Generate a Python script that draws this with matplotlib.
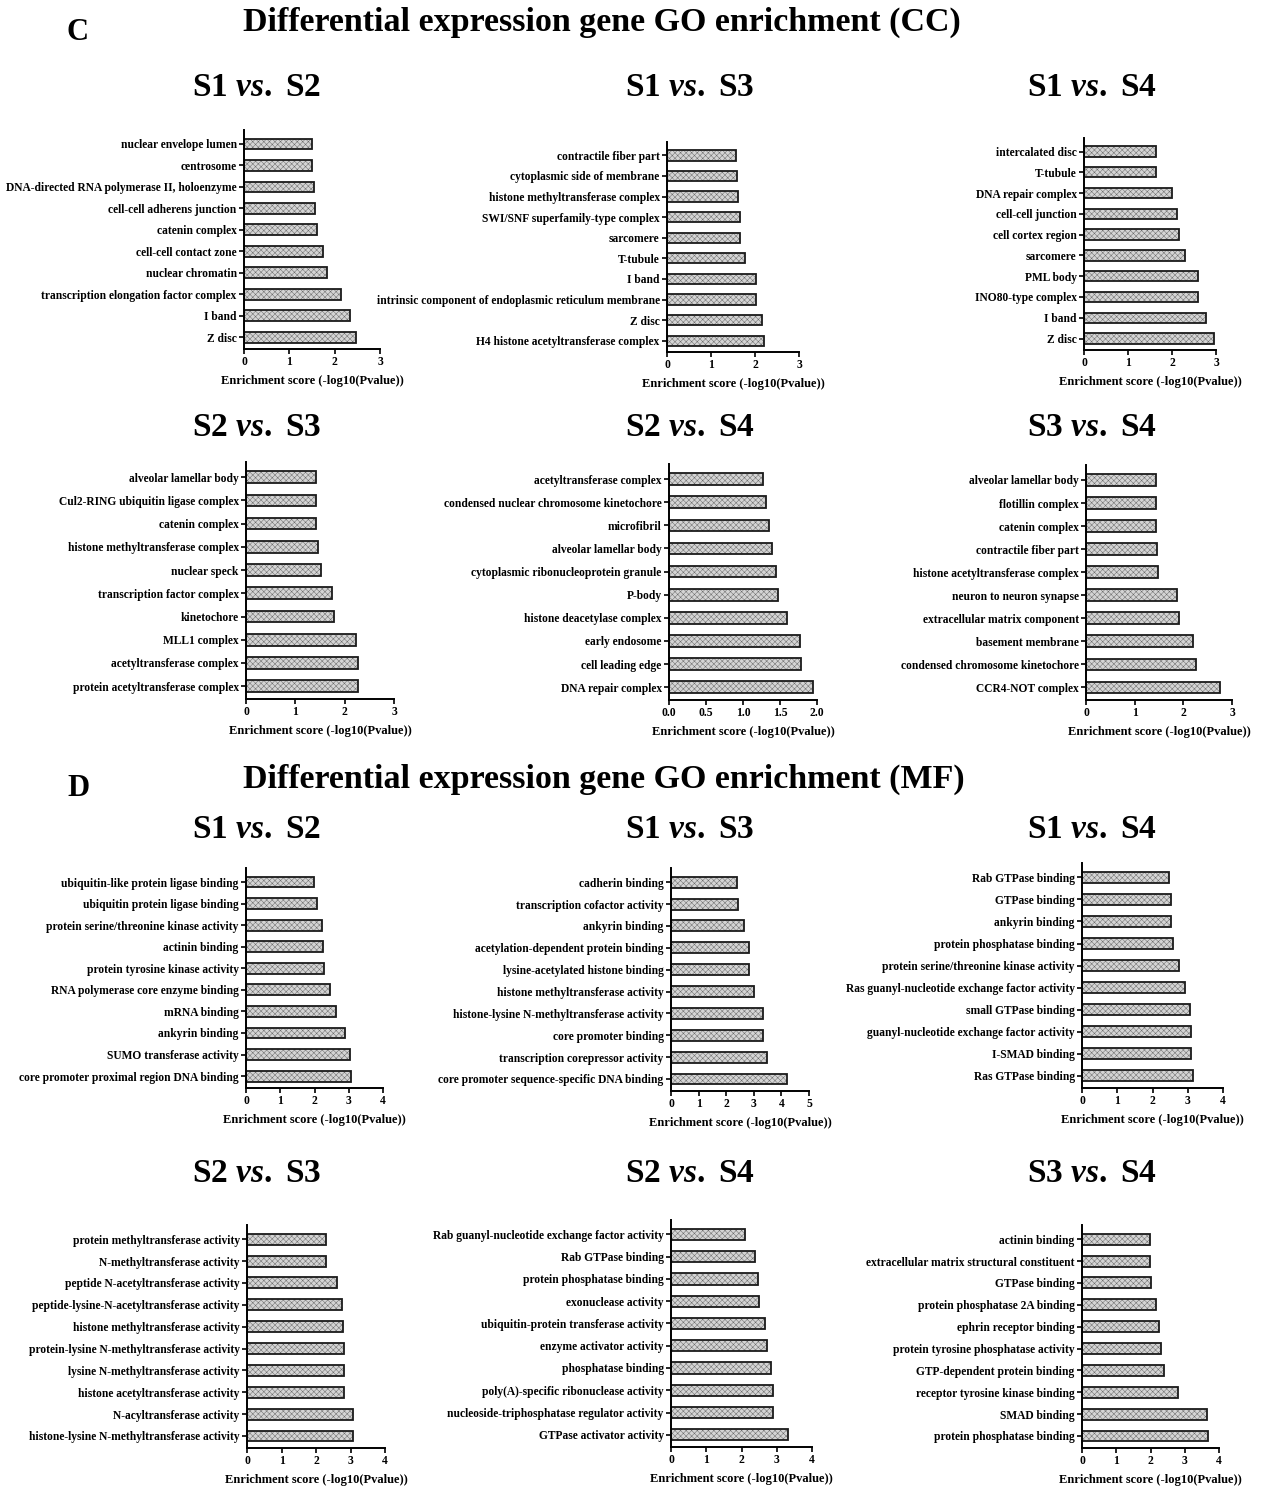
import numpy as np
import matplotlib
matplotlib.use('Agg')
import matplotlib.pyplot as plt

plt.rcParams['font.family'] = 'Liberation Serif'
plt.rcParams['font.weight'] = 'bold'
plt.rcParams['mathtext.fontset'] = 'custom'
plt.rcParams['mathtext.rm'] = 'Liberation Serif:bold'
plt.rcParams['mathtext.it'] = 'Liberation Serif:italic:bold'
plt.rcParams['mathtext.bf'] = 'Liberation Serif:bold'
plt.rcParams['hatch.linewidth'] = 0.35
plt.rcParams['hatch.color'] = '#555555'

# ---- data: terms listed top -> bottom, scores = -log10(P) ----
cc_s1_s2_terms = ['nuclear envelope lumen', 'centrosome', 'DNA-directed RNA polymerase II, holoenzyme',
                  'cell-cell adherens junction', 'catenin complex', 'cell-cell contact zone',
                  'nuclear chromatin', 'transcription elongation factor complex', 'I band', 'Z disc']
cc_s1_s2_vals = [1.49, 1.49, 1.54, 1.56, 1.60, 1.75, 1.82, 2.13, 2.34, 2.47]

cc_s1_s3_terms = ['contractile fiber part', 'cytoplasmic side of membrane', 'histone methyltransferase complex',
                  'SWI/SNF superfamily-type complex', 'sarcomere', 'T-tubule', 'I band',
                  'intrinsic component of endoplasmic reticulum membrane', 'Z disc',
                  'H4 histone acetyltransferase complex']
cc_s1_s3_vals = [1.56, 1.60, 1.61, 1.65, 1.65, 1.77, 2.02, 2.02, 2.15, 2.20]

cc_s1_s4_terms = ['intercalated disc', 'T-tubule', 'DNA repair complex', 'cell-cell junction',
                  'cell cortex region', 'sarcomere', 'PML body', 'INO80-type complex', 'I band', 'Z disc']
cc_s1_s4_vals = [1.63, 1.64, 2.01, 2.11, 2.15, 2.29, 2.58, 2.58, 2.78, 2.95]

cc_s2_s3_terms = ['alveolar lamellar body', 'Cul2-RING ubiquitin ligase complex', 'catenin complex',
                  'histone methyltransferase complex', 'nuclear speck', 'transcription factor complex',
                  'kinetochore', 'MLL1 complex', 'acetyltransferase complex',
                  'protein acetyltransferase complex']
cc_s2_s3_vals = [1.41, 1.41, 1.41, 1.46, 1.52, 1.75, 1.79, 2.22, 2.27, 2.27]

cc_s2_s4_terms = ['acetyltransferase complex', 'condensed nuclear chromosome kinetochore', 'microfibril',
                  'alveolar lamellar body', 'cytoplasmic ribonucleoprotein granule', 'P-body',
                  'histone deacetylase complex', 'early endosome', 'cell leading edge', 'DNA repair complex']
cc_s2_s4_vals = [1.27, 1.31, 1.35, 1.39, 1.44, 1.47, 1.60, 1.77, 1.79, 1.95]

cc_s3_s4_terms = ['alveolar lamellar body', 'flotillin complex', 'catenin complex', 'contractile fiber part',
                  'histone acetyltransferase complex', 'neuron to neuron synapse',
                  'extracellular matrix component', 'basement membrane',
                  'condensed chromosome kinetochore', 'CCR4-NOT complex']
cc_s3_s4_vals = [1.44, 1.44, 1.44, 1.45, 1.47, 1.88, 1.92, 2.19, 2.26, 2.75]

mf_s1_s2_terms = ['ubiquitin-like protein ligase binding', 'ubiquitin protein ligase binding',
                  'protein serine/threonine kinase activity', 'actinin binding',
                  'protein tyrosine kinase activity', 'RNA polymerase core enzyme binding', 'mRNA binding',
                  'ankyrin binding', 'SUMO transferase activity', 'core promoter proximal region DNA binding']
mf_s1_s2_vals = [1.99, 2.07, 2.21, 2.25, 2.29, 2.45, 2.62, 2.88, 3.05, 3.07]

mf_s1_s3_terms = ['cadherin binding', 'transcription cofactor activity', 'ankyrin binding',
                  'acetylation-dependent protein binding', 'lysine-acetylated histone binding',
                  'histone methyltransferase activity', 'histone-lysine N-methyltransferase activity',
                  'core promoter binding', 'transcription corepressor activity',
                  'core promoter sequence-specific DNA binding']
mf_s1_s3_vals = [2.40, 2.43, 2.64, 2.82, 2.82, 3.02, 3.33, 3.33, 3.47, 4.19]

mf_s1_s4_terms = ['Rab GTPase binding', 'GTPase binding', 'ankyrin binding', 'protein phosphatase binding',
                  'protein serine/threonine kinase activity', 'Ras guanyl-nucleotide exchange factor activity',
                  'small GTPase binding', 'guanyl-nucleotide exchange factor activity', 'I-SMAD binding',
                  'Ras GTPase binding']
mf_s1_s4_vals = [2.48, 2.52, 2.53, 2.57, 2.76, 2.92, 3.05, 3.09, 3.10, 3.16]

mf_s2_s3_terms = ['protein methyltransferase activity', 'N-methyltransferase activity',
                  'peptide N-acetyltransferase activity', 'peptide-lysine-N-acetyltransferase activity',
                  'histone methyltransferase activity', 'protein-lysine N-methyltransferase activity',
                  'lysine N-methyltransferase activity', 'histone acetyltransferase activity',
                  'N-acyltransferase activity', 'histone-lysine N-methyltransferase activity']
mf_s2_s3_vals = [2.29, 2.29, 2.60, 2.75, 2.78, 2.80, 2.80, 2.80, 3.06, 3.08]

mf_s2_s4_terms = ['Rab guanyl-nucleotide exchange factor activity', 'Rab GTPase binding',
                  'protein phosphatase binding', 'exonuclease activity',
                  'ubiquitin-protein transferase activity', 'enzyme activator activity',
                  'phosphatase binding', 'poly(A)-specific ribonuclease activity',
                  'nucleoside-triphosphatase regulator activity', 'GTPase activator activity']
mf_s2_s4_vals = [2.11, 2.37, 2.46, 2.51, 2.68, 2.72, 2.85, 2.89, 2.90, 3.32]

mf_s3_s4_terms = ['actinin binding', 'extracellular matrix structural constituent', 'GTPase binding',
                  'protein phosphatase 2A binding', 'ephrin receptor binding',
                  'protein tyrosine phosphatase activity', 'GTP-dependent protein binding',
                  'receptor tyrosine kinase binding', 'SMAD binding', 'protein phosphatase binding']
mf_s3_s4_vals = [1.98, 1.98, 2.02, 2.17, 2.25, 2.31, 2.38, 2.79, 3.66, 3.68]

comparisons = ['S1 $\\mathit{vs.}$ S2', 'S1 $\\mathit{vs.}$ S3', 'S1 $\\mathit{vs.}$ S4',
               'S2 $\\mathit{vs.}$ S3', 'S2 $\\mathit{vs.}$ S4', 'S3 $\\mathit{vs.}$ S4']

cc_panels = [(cc_s1_s2_terms, cc_s1_s2_vals, 3, 1), (cc_s1_s3_terms, cc_s1_s3_vals, 3, 1),
             (cc_s1_s4_terms, cc_s1_s4_vals, 3, 1), (cc_s2_s3_terms, cc_s2_s3_vals, 3, 1),
             (cc_s2_s4_terms, cc_s2_s4_vals, 2, 0.5), (cc_s3_s4_terms, cc_s3_s4_vals, 3, 1)]
mf_panels = [(mf_s1_s2_terms, mf_s1_s2_vals, 4, 1), (mf_s1_s3_terms, mf_s1_s3_vals, 5, 1),
             (mf_s1_s4_terms, mf_s1_s4_vals, 4, 1), (mf_s2_s3_terms, mf_s2_s3_vals, 4, 1),
             (mf_s2_s4_terms, mf_s2_s4_vals, 4, 1), (mf_s3_s4_terms, mf_s3_s4_vals, 4, 1)]

# axes boxes in pixels: left, right, top, bottom
cc_boxes = [(244, 380, 130, 349), (667, 799, 142, 352), (1084, 1216, 138, 350),
            (246, 394, 462, 699), (669, 817, 464, 700), (1086, 1232, 465, 700)]
mf_boxes = [(246, 383, 868, 1088), (671, 809, 868, 1091), (1082, 1223, 863, 1088),
            (247, 385, 1225, 1448), (671, 812, 1220, 1447), (1082, 1219, 1225, 1448)]

W, H = 1261, 1487
fig = plt.figure(figsize=(W / 100, H / 100), dpi=100)


def draw_panel(box, terms, vals, xmax, step):
    l, r, t, b = box
    ax = fig.add_axes([l / W, 1 - b / H, (r - l) / W, (b - t) / H])
    y = np.arange(len(terms))[::-1]
    ax.barh(y, vals, height=0.5, color='#d4d4d4', edgecolor='#6a6a6a', hatch='xxxxxx', linewidth=0)
    ax.barh(y, vals, height=0.5, fill=False, edgecolor='#1a1a1a', linewidth=1.3)
    ax.set_yticks(y)
    ax.set_yticklabels(terms, fontsize=8.3, fontweight='bold')
    ax.set_xlim(0, xmax)
    ax.set_ylim(-0.55, 9.65)
    ticks = np.arange(0, xmax + step / 2, step)
    ax.set_xticks(ticks)
    if step < 1:
        ax.set_xticklabels(['%.1f' % v for v in ticks], fontsize=8.4, fontweight='bold')
    else:
        ax.set_xticklabels(['%d' % v for v in ticks], fontsize=8.4, fontweight='bold')
    ax.set_xlabel('Enrichment score (-log10(Pvalue))', fontsize=9, fontweight='bold', labelpad=4.5)
    for s in ['top', 'right']:
        ax.spines[s].set_visible(False)
    for s in ['left', 'bottom']:
        ax.spines[s].set_linewidth(1.4)
    ax.tick_params(axis='both', direction='out', length=3.5, width=1.2, pad=1.8)
    ax.set_facecolor('none')
    return ax


for i in range(6):
    draw_panel(cc_boxes[i], *cc_panels[i])
    draw_panel(mf_boxes[i], *mf_panels[i])

# section labels and titles
fig.text(78 / W, 1 - 32 / H, 'C', fontsize=22, fontweight='bold', ha='center', va='center')
fig.text(602 / W, 1 - 22 / H, 'Differential expression gene GO enrichment (CC)', fontsize=24.5,
         fontweight='bold', ha='center', va='center')
fig.text(78 / W, 1 - 789 / H, 'D', fontsize=22, fontweight='bold', ha='center', va='center')
fig.text(604 / W, 1 - 779 / H, 'Differential expression gene GO enrichment (MF)', fontsize=24.5,
         fontweight='bold', ha='center', va='center')

col_x = [257, 690, 1092]
row_y = [88, 427, 830, 1173]
for i in range(6):
    fig.text(col_x[i % 3] / W, 1 - row_y[i // 3] / H, comparisons[i], fontsize=24,
             ha='center', va='center')
    fig.text(col_x[i % 3] / W, 1 - row_y[2 + i // 3] / H, comparisons[i], fontsize=24,
             ha='center', va='center')

fig.savefig('out.png', dpi=100, facecolor='white')
